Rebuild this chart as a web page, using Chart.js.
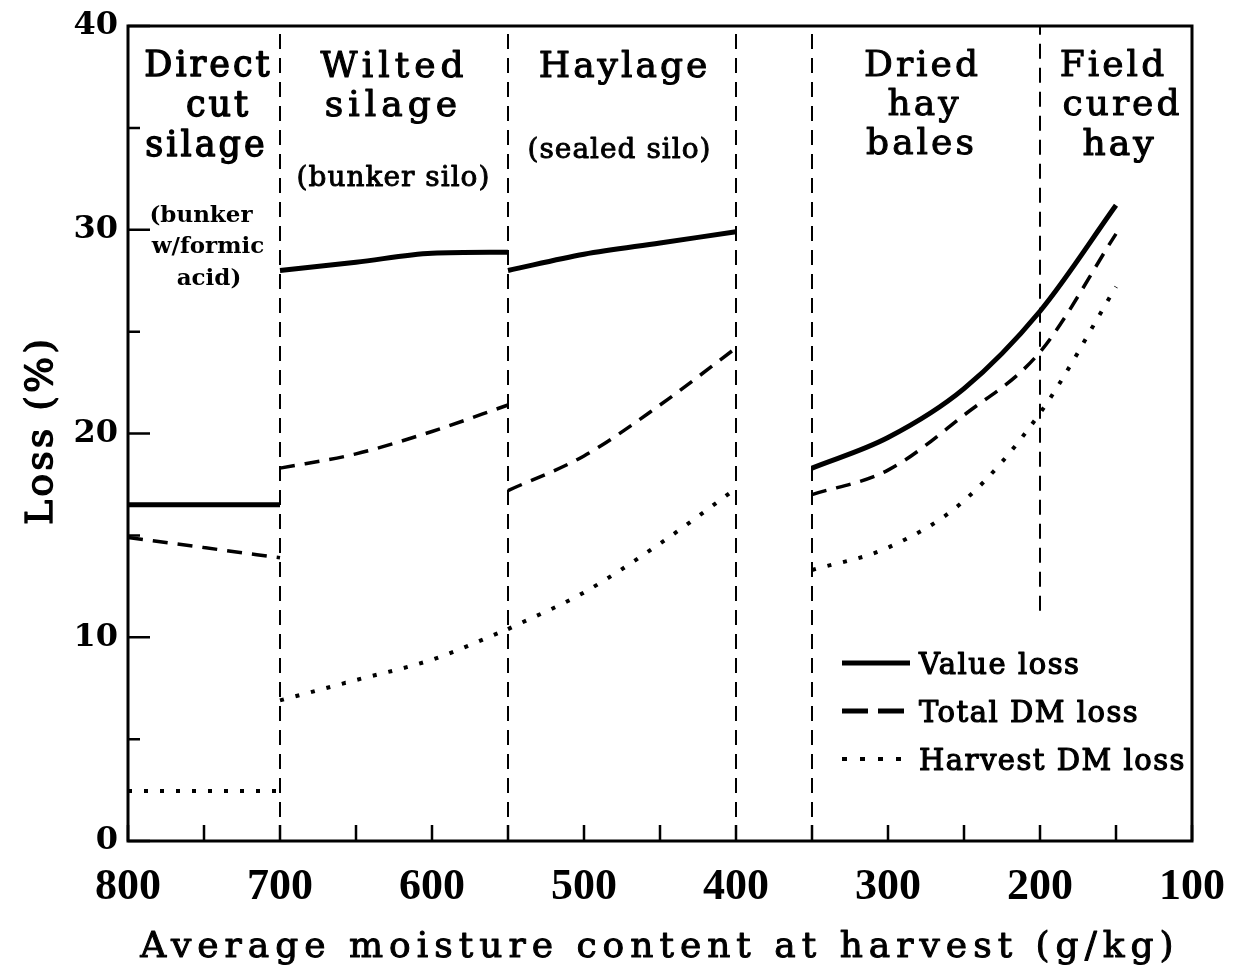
<!DOCTYPE html>
<html><head><meta charset="utf-8">
<style>html,body{margin:0;padding:0;background:#fff;} canvas{display:block;}</style>
<script src="https://cdn.jsdelivr.net/npm/chart.js@4/dist/chart.umd.min.js"></script>
</head><body>
<canvas id="c" width="1238" height="972"></canvas>
<script>
// ---- data (moisture g/kg -> loss %) ----
const segDirectX = [800, 750, 700];
const valueLossDirect = [16.5, 16.5, 16.5];
const totalDMDirect = [14.9, 14.4, 13.9];
const harvestDMDirect = [2.45, 2.45, 2.45];

const segWiltedX = [700, 650, 600, 550];
const valueLossWilted = [28.0, 28.4, 28.85, 28.9];
const totalDMWilted = [18.3, 19.0, 20.1, 21.4];
const harvestDMWilted = [6.9, 7.9, 8.9, 10.4];

const segHaylageX = [550, 500, 450, 400];
const valueLossHaylage = [28.0, 28.8, 29.35, 29.9];
const totalDMHaylage = [17.2, 18.9, 21.4, 24.2];
const harvestDMHaylage = [10.4, 12.2, 14.6, 17.3];

const segHayX = [350, 300, 250, 200, 150];
const valueLossHay = [18.3, 19.8, 22.2, 26.0, 31.2];
const totalDMHay = [17.0, 18.2, 20.9, 24.0, 29.8];
const harvestDMHay = [13.3, 14.4, 16.7, 21.0, 27.2];

const boundaryX = [700, 550, 400, 350, 200];
const boundaryBottom = [0, 0, 0, 0, 11.3];
const boundaryTop = [40, 40, 40, 40, 40];

const seriesNames = ['Value loss', 'Total DM loss', 'Harvest DM loss'];
const xTickValues = [800, 700, 600, 500, 400, 300, 200, 100];
const xMinorTicks = [750, 650, 550, 450, 350, 250, 150];
const yTickValues = [0, 10, 20, 30, 40];
const yMinorTicks = [5, 15, 25, 35];

// ---- helpers ----
function pts(xs, ys) { return xs.map((x, i) => ({x: x, y: ys[i]})); }
function join(segs) {
  const out = [];
  segs.forEach((s, i) => { if (i) out.push({x: s[0].x, y: null}); s.forEach(p => out.push(p)); });
  return out;
}
const boundaryData = join(boundaryX.map((x, i) => [{x: x, y: boundaryBottom[i]}, {x: x, y: boundaryTop[i]}]));

const valueData = join([pts(segDirectX, valueLossDirect), pts(segWiltedX, valueLossWilted), pts(segHaylageX, valueLossHaylage), pts(segHayX, valueLossHay)]);
const totalData = join([pts(segDirectX, totalDMDirect), pts(segWiltedX, totalDMWilted), pts(segHaylageX, totalDMHaylage), pts(segHayX, totalDMHay)]);
const harvestData = join([pts(segDirectX, harvestDMDirect), pts(segWiltedX, harvestDMWilted), pts(segHaylageX, harvestDMHaylage), pts(segHayX, harvestDMHay)]);

const SERIF = '"DejaVu Serif", "Liberation Serif", serif';

// t: text, x: centre, y: baseline, f: font, s: letter spacing, w: extra stroke weight
const annotations = [
  {t: 'Direct', x: 207, y: 76, f: '35px ' + SERIF, s: 3, w: 1.4},
  {t: 'cut', x: 217, y: 116, f: '35px ' + SERIF, s: 3, w: 1.4},
  {t: 'silage', x: 205, y: 156, f: '35px ' + SERIF, s: 3, w: 1.4},
  {t: '(bunker', x: 201, y: 222, f: 'bold 23px ' + SERIF, s: 0, w: 0},
  {t: 'w/formic', x: 208, y: 253, f: 'bold 23px ' + SERIF, s: 0, w: 0},
  {t: 'acid)', x: 209, y: 285, f: 'bold 23px ' + SERIF, s: 0, w: 0},
  {t: 'Wilted', x: 392, y: 77, f: '36px ' + SERIF, s: 5, w: 1.1},
  {t: 'silage', x: 391, y: 116, f: '36px ' + SERIF, s: 5, w: 1.1},
  {t: '(bunker silo)', x: 393, y: 186, f: '28px ' + SERIF, s: 1, w: 0.9},
  {t: 'Haylage', x: 623, y: 77, f: '36px ' + SERIF, s: 3, w: 1.1},
  {t: '(sealed silo)', x: 619, y: 158, f: '28px ' + SERIF, s: 1, w: 0.9},
  {t: 'Dried', x: 921, y: 76, f: '36px ' + SERIF, s: 3, w: 1.0},
  {t: 'hay', x: 923, y: 115, f: '36px ' + SERIF, s: 3, w: 1.0},
  {t: 'bales', x: 920, y: 154, f: '36px ' + SERIF, s: 3, w: 1.0},
  {t: 'Field', x: 1112, y: 76, f: '36px ' + SERIF, s: 3, w: 1.0},
  {t: 'cured', x: 1121, y: 115, f: '36px ' + SERIF, s: 3, w: 1.0},
  {t: 'hay', x: 1118, y: 155, f: '36px ' + SERIF, s: 3, w: 1.2}
];

function drawText(ctx, t, x, y, font, spacing, align, weight) {
  ctx.save();
  ctx.font = font;
  ctx.letterSpacing = spacing + 'px';
  ctx.fillStyle = '#000';
  ctx.strokeStyle = '#000';
  ctx.textAlign = align || 'center';
  ctx.textBaseline = 'alphabetic';
  const dx = (align === 'left') ? 0 : spacing / 2;
  ctx.fillText(t, x + dx, y);
  if (weight) { ctx.lineWidth = weight; ctx.lineJoin = 'round'; ctx.strokeText(t, x + dx, y); }
  ctx.restore();
}

const framePlugin = {
  id: 'frame',
  afterDatasetsDraw(chart) {
    const ctx = chart.ctx, a = chart.chartArea;
    const xs = chart.scales.x, ys = chart.scales.y;
    ctx.save();
    ctx.strokeStyle = '#000';
    ctx.lineWidth = 3;
    ctx.beginPath();
    ctx.moveTo(a.left, a.top); ctx.lineTo(a.right, a.top);
    ctx.lineTo(a.right, a.bottom); ctx.lineTo(a.left, a.bottom); ctx.closePath();
    ctx.stroke();
    ctx.lineWidth = 2.5;
    ctx.beginPath();
    yTickValues.forEach(v => { const p = ys.getPixelForValue(v); ctx.moveTo(a.left, p); ctx.lineTo(a.left + 22, p); });
    yMinorTicks.forEach(v => { const p = ys.getPixelForValue(v); ctx.moveTo(a.left, p); ctx.lineTo(a.left + 12, p); });
    xTickValues.concat(xMinorTicks).forEach(v => { const p = xs.getPixelForValue(v); ctx.moveTo(p, a.bottom); ctx.lineTo(p, a.bottom - 16); });
    ctx.stroke();
    ctx.restore();

    annotations.forEach(o => drawText(ctx, o.t, o.x, o.y, o.f, o.s, 'center', o.w));

    // legend
    const legY = [663, 711, 759];
    chart.data.datasets.slice(1).forEach((ds, i) => {
      ctx.save();
      ctx.strokeStyle = '#000';
      ctx.lineWidth = ds.legendWidth || ds.borderWidth;
      ctx.setLineDash(ds.legendDash || ds.borderDash || []);
      ctx.beginPath();
      ctx.moveTo(842, legY[i]); ctx.lineTo(910, legY[i]);
      ctx.stroke();
      ctx.restore();
      drawText(ctx, seriesNames[i], 919, legY[i] + 11, '29px ' + SERIF, 1.5, 'left', 1.2);
    });

    // axis titles
    drawText(ctx, 'Average moisture content at harvest (g/kg)', 657, 957, '36px ' + SERIF, 6, 'center', 1.0);
    ctx.save();
    ctx.translate(52, 432);
    ctx.rotate(-Math.PI / 2);
    drawText(ctx, 'Loss (%)', 0, 0, '38px ' + SERIF, 3, 'center', 1.4);
    ctx.restore();
  }
};

new Chart(document.getElementById('c'), {
  type: 'line',
  data: {
    datasets: [
      {label: 'Boundaries', data: boundaryData, borderColor: '#000', borderWidth: 2, borderDash: [15, 9], pointRadius: 0, tension: 0},
      {label: seriesNames[0], data: valueData, borderColor: '#000', borderWidth: 5, pointRadius: 0, cubicInterpolationMode: 'monotone'},
      {label: seriesNames[1], data: totalData, borderColor: '#000', borderWidth: 3.5, borderDash: [15, 10], legendDash: [26, 10], legendWidth: 5, pointRadius: 0, cubicInterpolationMode: 'monotone'},
      {label: seriesNames[2], data: harvestData, borderColor: '#000', borderWidth: 4, borderDash: [4, 12], legendDash: [5, 13], pointRadius: 0, cubicInterpolationMode: 'monotone'}
    ]
  },
  options: {
    responsive: false,
    animation: false,
    devicePixelRatio: 1,
    layout: {padding: {left: 0, top: 26, right: 46, bottom: 0}},
    plugins: {legend: {display: false}, tooltip: {enabled: false}},
    scales: {
      x: {
        type: 'linear', reverse: true, min: 100, max: 800,
        afterFit(scale) { scale.height = 131; scale.paddingLeft = 0; scale.paddingRight = 0; },
        afterBuildTicks(scale) { scale.ticks = xTickValues.map(v => ({value: v})); },
        grid: {display: false, drawTicks: false},
        border: {display: false},
        ticks: {color: '#000', padding: 20, maxRotation: 0, autoSkip: false,
                font: {family: '"Liberation Serif", serif', size: 44, weight: 'bold'}}
      },
      y: {
        min: 0, max: 40,
        afterFit(scale) { scale.width = 128; scale.paddingTop = 0; scale.paddingBottom = 0; },
        afterBuildTicks(scale) { scale.ticks = yTickValues.map(v => ({value: v})); },
        grid: {display: false, drawTicks: false},
        border: {display: false},
        ticks: {color: '#000', padding: 10, font: {family: SERIF, size: 32, weight: 'bold'}}
      }
    }
  },
  plugins: [framePlugin]
});
</script>
</body></html>
